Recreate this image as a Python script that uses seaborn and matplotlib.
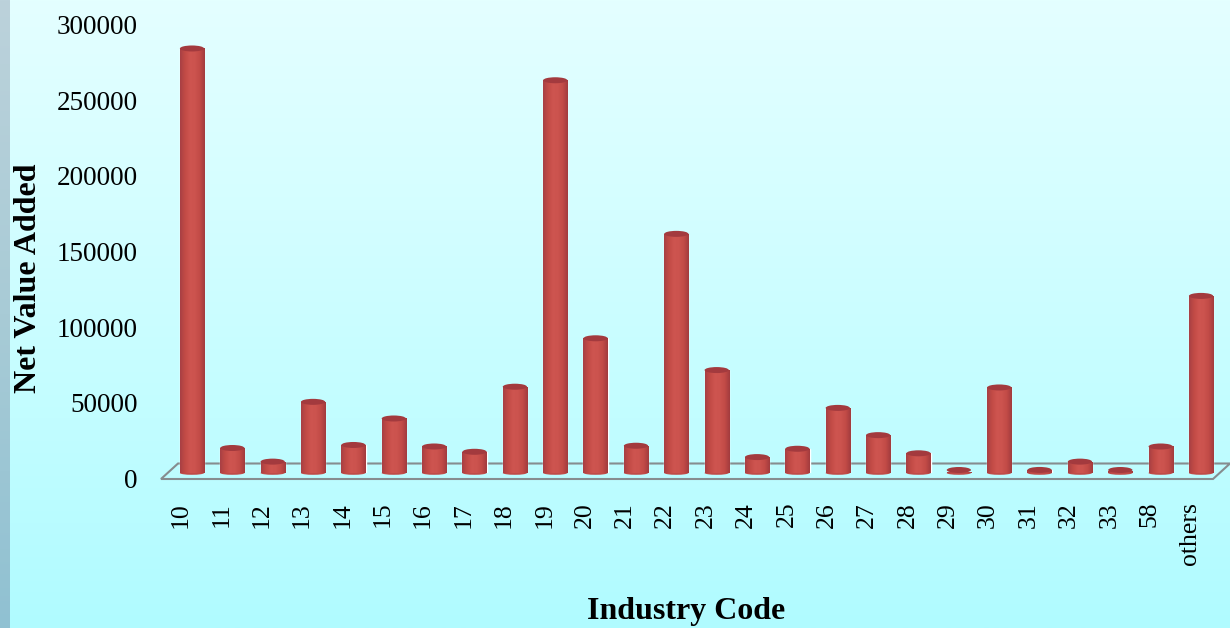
import numpy as np
import pandas as pd
import matplotlib
matplotlib.use("Agg")
import matplotlib.pyplot as plt
from matplotlib.colors import LinearSegmentedColormap
from matplotlib.patches import Ellipse, Polygon
from matplotlib.transforms import ScaledTranslation
import seaborn as sns

industry_codes = ["10", "11", "12", "13", "14", "15", "16", "17", "18", "19", "20", "21", "22",
                  "23", "24", "25", "26", "27", "28", "29", "30", "31", "32", "33", "58", "others"]
net_value_added = [282500, 18500, 9500, 49000, 20500, 38000, 19500, 16000, 59000, 261500, 91000, 20000,
                   160000, 70000, 12500, 18000, 45000, 27000, 15000, 2500, 58500, 4000, 9500, 3500, 19500, 119000]
y_ticks = [0, 50000, 100000, 150000, 200000, 250000, 300000]

W, H = 1230, 628
PX_PER_UNIT = 454 / 300000
BASE_Y, TOP_Y = 473, 19
LEFT_X, RIGHT_X = 171.8, 1221.2

sns.set_theme(style="white")
plt.rcParams["font.family"] = ["Liberation Serif", "DejaVu Serif"]

fig = plt.figure(figsize=(W / 100, H / 100), dpi=100)

# Backdrop: pale cyan wash with a slate band down the left edge
bg = fig.add_axes([0, 0, 1, 1], zorder=0)
bg.axis("off")
wash = LinearSegmentedColormap.from_list("wash", ["#e4ffff", "#d4feff", "#c2fdff", "#b0fbff"])
bg.imshow(np.linspace(0, 1, 256)[:, None], cmap=wash, aspect="auto", extent=[0, W, H, 0], zorder=0)
band = LinearSegmentedColormap.from_list("band", ["#bcd2db", "#a8cbd6", "#90c1d2"])
bg.imshow(np.linspace(0, 1, 256)[:, None], cmap=band, aspect="auto", extent=[0, 10, H, 0], zorder=1)
bg.set_xlim(0, W)
bg.set_ylim(H, 0)

ax = fig.add_axes([LEFT_X / W, 1 - BASE_Y / H, (RIGHT_X - LEFT_X) / W, (BASE_Y - TOP_Y) / H], zorder=1)
ax.patch.set_alpha(0)

df = pd.DataFrame({"code": industry_codes, "nva": net_value_added})
sns.barplot(data=df, x="code", y="nva", color="#c44f4b", width=0.6, saturation=1, ax=ax, zorder=3)

ax.set_xlim(-0.5, len(industry_codes) - 0.5)
ax.set_ylim(0, 300000)
sns.despine(ax=ax, left=True, bottom=True)

# Cylinder shading across each bar, with elliptical caps top and bottom
shade = LinearSegmentedColormap.from_list(
    "shade", ["#a84044", "#c24b46", "#ce5550", "#cc534e", "#c24b47", "#a23c3e"])
cap_h = 6 / PX_PER_UNIT
for bar in list(ax.patches):
    x0, w, v = bar.get_x(), bar.get_width(), bar.get_height()
    v_top = v - cap_h / 2
    bar.set_height(max(v_top, 0))
    ax.add_patch(Ellipse((x0 + w / 2, 0), w, cap_h * 0.6, facecolor="#c04b48", edgecolor="none",
                         zorder=3, clip_on=False))
    img = ax.imshow(np.linspace(0, 1, 64)[None, :], cmap=shade, aspect="auto",
                    extent=[x0, x0 + w, 0, max(v_top, 1)], zorder=4)
    img.set_clip_path(bar)
    ax.add_patch(Ellipse((x0 + w / 2, max(v_top, cap_h / 2)), w, cap_h, facecolor="#a33a3e",
                         edgecolor="none", zorder=5, clip_on=False))
ax.set_xlim(-0.5, len(industry_codes) - 0.5)
ax.set_ylim(0, 300000)

# Perspective floor behind the bars
spacing = (RIGHT_X - LEFT_X) / len(industry_codes)
front = -6 / 454 * 300000
back = 9.5 / 454 * 300000
fx = lambda px: (px - LEFT_X) / spacing - 0.5
floor = [(fx(161), front), (fx(1213), front), (fx(1230), back), (fx(178), back)]
ax.add_patch(Polygon(floor, closed=True, facecolor="none", edgecolor="#868c8f", linewidth=1.5,
                     zorder=2, clip_on=False))

ax.set_yticks(y_ticks)
ax.tick_params(axis="both", length=0)
x_shift = ScaledTranslation(-11 / 100, -24 / 100, fig.dpi_scale_trans)
for label in ax.get_xticklabels():
    label.set_rotation(90)
    label.set_fontsize(18.5)
    label.set_color("black")
    label.set_va("top")
    label.set_ha("center")
    label.set_transform(label.get_transform() + x_shift)
y_shift = ScaledTranslation(-29 / 100, -5.5 / 100, fig.dpi_scale_trans)
ax.set_yticklabels([str(t) for t in y_ticks], fontsize=19.5, color="black")
for label in ax.get_yticklabels():
    label.set_transform(label.get_transform() + y_shift)

ax.set_ylabel("Net Value Added", fontsize=23, fontweight="bold", color="black", va="center")
ax.yaxis.set_label_coords((29 - LEFT_X) / (RIGHT_X - LEFT_X), (BASE_Y - 278) / (BASE_Y - TOP_Y))
ax.set_xlabel("Industry Code", fontsize=23, fontweight="bold", color="black", va="center")
ax.xaxis.set_label_coords((686 - LEFT_X) / (RIGHT_X - LEFT_X), -(611 - BASE_Y) / (BASE_Y - TOP_Y))

fig.savefig("out.png", dpi=100)
